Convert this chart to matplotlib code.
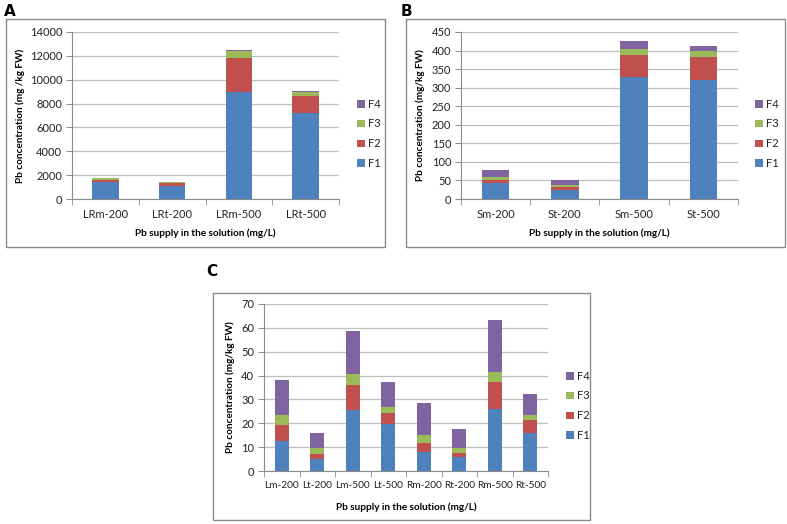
import matplotlib.pyplot as plt
from matplotlib.patches import Rectangle

plt.rcParams['font.family'] = ['Lato', 'DejaVu Sans']

# panel A
catsA = ['LRm-200', 'LRt-200', 'LRm-500', 'LRt-500']
f1A = [1450, 1100, 8950, 7250]
f2A = [150, 250, 2850, 1350]
f3A = [120, 50, 600, 350]
f4A = [80, 30, 120, 100]

# panel B
catsB = ['Sm-200', 'St-200', 'Sm-500', 'St-500']
f1B = [42, 24, 330, 320]
f2B = [10, 8, 57, 62]
f3B = [6, 5, 18, 16]
f4B = [19, 15, 20, 15]

# panel C
catsC = ['Lm-200', 'Lt-200', 'Lm-500', 'Lt-500', 'Rm-200', 'Rt-200', 'Rm-500', 'Rt-500']
f1C = [12.5, 5.0, 25.5, 19.5, 8.0, 5.7, 25.8, 16.0]
f2C = [6.7, 2.2, 10.5, 5.0, 3.8, 1.8, 11.4, 5.2]
f3C = [4.1, 2.6, 4.5, 2.3, 3.4, 2.3, 4.4, 2.2]
f4C = [14.9, 6.0, 18.3, 10.6, 13.3, 7.7, 21.9, 8.9]

colors = ['#4F81BD', '#C0504D', '#9BBB59', '#8064A2']
names = ['F1', 'F2', 'F3', 'F4']

W, H = 787, 524
fig = plt.figure(figsize=(W / 100, H / 100), dpi=100)


def px_axes(l, t, r, b):
    return fig.add_axes([l / W, 1 - b / H, (r - l) / W, (b - t) / H])


def box(l, t, r, b):
    fig.add_artist(Rectangle((l / W, 1 - b / H), (r - l) / W, (b - t) / H,
                             transform=fig.transFigure, fill=False,
                             edgecolor='#8c8c8c', linewidth=1.0))


def panel(ax, cats, series, ymax, ystep, ylabel, ylab_x, xlab_y, leg_x, tsize=8):
    x = list(range(len(cats)))
    bottom = [0] * len(cats)
    handles = []
    for vals, c, n in zip(series, colors, names):
        h = ax.bar(x, vals, width=0.4, bottom=bottom, color=c, label=n, zorder=3)
        handles.append(h)
        bottom = [b + v for b, v in zip(bottom, vals)]
    ax.set_xlim(-0.5, len(cats) - 0.5)
    ax.set_ylim(0, ymax)
    ax.set_yticks(range(0, ymax + 1, ystep))
    ax.set_xticks(x)
    ax.set_xticklabels(cats, fontsize=tsize, color='#222222')
    ax.set_xticks([i + 0.5 for i in range(-1, len(cats))], minor=True)
    ax.tick_params(axis='x', which='major', length=0, pad=7)
    ax.tick_params(axis='x', which='minor', length=4, color='#8c8c8c')
    ax.tick_params(axis='y', labelsize=8, length=4, color='#8c8c8c', pad=3,
                   labelcolor='#222222')
    ax.yaxis.grid(True, color='#bfbfbf', linewidth=0.9, zorder=0)
    for s in ['top', 'right']:
        ax.spines[s].set_visible(False)
    for s in ['left', 'bottom']:
        ax.spines[s].set_color('#8c8c8c')
    ax.set_xlabel('Pb supply in the solution (mg/L)', fontsize=7.2, fontweight='bold')
    ax.set_ylabel(ylabel, fontsize=7.2, fontweight='bold')
    ax.yaxis.set_label_coords(ylab_x, 0.5)
    ax.xaxis.set_label_coords(0.5, xlab_y)
    ax.legend(handles[::-1], names[::-1], loc='center left',
              bbox_to_anchor=(leg_x, 0.39), frameon=False, fontsize=8,
              handlelength=0.7, handleheight=0.7, handletextpad=0.3,
              labelspacing=0.8, labelcolor='#222222')


box(6, 19, 385, 247)
box(406, 19, 785, 247)
box(213, 293, 590, 520)

axA = px_axes(72, 32, 339, 199)
panel(axA, catsA, [f1A, f2A, f3A, f4A], 14000, 2000,
      'Pb concentration (mg /kg FW)', -0.176, -0.174, 1.03)
axB = px_axes(461, 32, 738, 199)
panel(axB, catsB, [f1B, f2B, f3B, f4B], 450, 50,
      'Pb concentration (mg/kg FW)', -0.13, -0.174, 1.025)
axC = px_axes(264, 304, 548, 471)
panel(axC, catsC, [f1C, f2C, f3C, f4C], 70, 10,
      'Pb concentration (mg/kg FW)', -0.102, -0.186, 1.028, tsize=7.3)

fig.text(4 / W, 1 - 12 / H, 'A', fontsize=11, fontweight='bold',
         family='DejaVu Sans', va='center')
fig.text(401 / W, 1 - 12 / H, 'B', fontsize=11, fontweight='bold',
         family='DejaVu Sans', va='center')
fig.text(206 / W, 1 - 272 / H, 'C', fontsize=11, fontweight='bold',
         family='DejaVu Sans', va='center')

fig.savefig('out.png', dpi=100)
